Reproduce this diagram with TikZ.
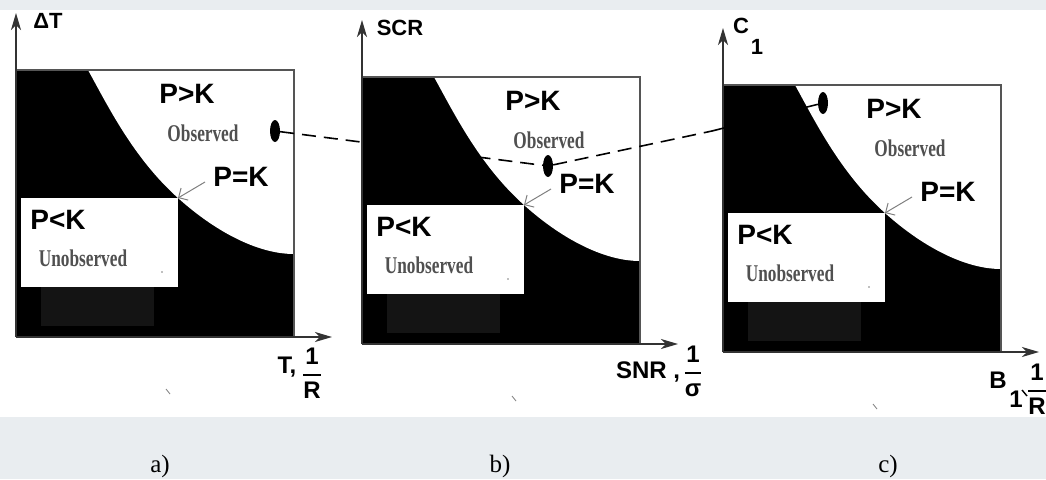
\documentclass[tikz,border=0pt]{standalone}
\usepackage{amsmath}
\usepackage{fontspec}
\setmainfont{Liberation Serif}
\setsansfont{Liberation Sans}
\newfontfamily\condserif{Liberation Serif}[FakeStretch=0.72]
\usetikzlibrary{arrows.meta,shapes.geometric}
\definecolor{bgband}{HTML}{E9EDF0}
\definecolor{obsgray}{HTML}{505050}
\definecolor{framegray}{HTML}{555555}
\definecolor{darkrect}{HTML}{141414}
\tikzset{
  rel/.style={font=\sffamily\bfseries\fontsize{28}{28}\selectfont, inner sep=0pt},
  obs/.style={font=\condserif\bfseries\fontsize{24}{24}\selectfont, text=obsgray, inner sep=0pt},
  axlbl/.style={font=\sffamily\bfseries\fontsize{22}{22}\selectfont, inner sep=0pt},
  botlbl/.style={font=\sffamily\bfseries\fontsize{24}{24}\selectfont, inner sep=0pt},
  panlbl/.style={font=\rmfamily\fontsize{25}{25}\selectfont, inner sep=0pt},
  axisline/.style={line width=1.3pt, draw=black!80, -{Stealth[length=17pt,width=10pt,inset=5pt]}},
  frameline/.style={line width=1.3pt, draw=framegray},
  pointer/.style={draw=gray, line width=1pt, -{Straight Barb[length=7pt,width=14pt]}},
  dotn/.style={ellipse, fill=black, minimum width=10pt, minimum height=22pt, inner sep=0pt},
  link/.style={line width=1.6pt, dash pattern=on 14pt off 8pt},
  linksolid/.style={line width=1.6pt},
}
\newcommand\drawpanel[2]{%
\begin{scope}[shift={#2}]
  \fill[black] (0,0) rectangle (278,267);
  \fill[white] (72,0) .. controls (92,36) and (117,87.5) .. (162,128)
     .. controls (197,159.5) and (240,184) .. (278,184) -- (278,0) -- cycle;
  \fill[white] (5,128) rectangle (161.5,217);
  \fill[darkrect] (25,217) rectangle (138,256);
  \draw[frameline] (0,0) -- (278,0) -- (278,267);
  \coordinate (#1-o) at (0,267);
  \coordinate (#1-ytip) at (0,-57);
  \coordinate (#1-xtip) at (316,267);
  \draw[axisline] (#1-o) -- (#1-ytip);
  \draw[axisline] (#1-o) -- (#1-xtip);
  \node[rel] (#1-gt) at (171,24) {P>K};
  \node[obs] (#1-obs) at (187,63) {Observed};
  \node[rel] (#1-eq) at (225,107) {P=K};
  \node[rel] (#1-lt) at (42,150) {P<K};
  \node[obs] (#1-unobs) at (67,188) {Unobserved};
  \coordinate (#1-corner) at (162,128);
  \coordinate (#1-ptr) at (189,112);
  \draw[pointer] (#1-ptr) -- (#1-corner);
  \fill[gray] (146,202) circle[radius=0.9pt];
  \draw[gray, line width=0.8pt] (150,319) -- (154,324);
\end{scope}}
\begin{document}
\begin{tikzpicture}[x=1pt,y=-1pt]
\useasboundingbox (0,0) rectangle (1046,479);
\fill[bgband] (0,0) rectangle (1046,479);
\fill[white] (0,10) rectangle (1046,417);
\drawpanel{a}{(16,70)}
\drawpanel{b}{(362,77)}
\drawpanel{c}{(723,85)}
% axis labels
\node[axlbl] (ya) at (48,21) {ΔT};
\node[axlbl] (yb) at (400,28) {SCR};
\node[axlbl] (yc1) at (741,26) {C};
\node[axlbl] (yc2) at (757,47) {1};
\node[botlbl] (xa1) at (287,367) {T,};
\node[botlbl] (xa2) at (312,373) {$\genfrac{}{}{1.6pt}{0}{\hbox{1}}{\hbox{R}}$};
\node[botlbl] (xb1) at (648,372) {SNR ,};
\node[botlbl] (xb2) at (693,371) {$\genfrac{}{}{1.6pt}{0}{\hbox{1}}{\hbox{σ}}$};
\node[botlbl] (xc1) at (998,380) {B};
\node[botlbl] (xc2) at (1016,399) {1};
\draw[line width=1.4pt] (1022,390) -- (1027,396);
\node[botlbl] (xc3) at (1037,389) {$\genfrac{}{}{1.6pt}{0}{\hbox{1}}{\hbox{R}}$};
% dots and link
\node[dotn] (da) at (275,131) {};
\node[dotn] (db) at (548,166) {};
\node[dotn] (dc) at (823,103) {};
\coordinate (lk) at (712,131);
\draw[link] (da) -- (db);
\draw[link] (db) -- (lk);
\draw[linksolid] (lk) -- (dc);
% panel labels
\node[panlbl] (la) at (160,466) {a)};
\node[panlbl] (lb) at (500,466) {b)};
\node[panlbl] (lc) at (888,466) {c)};
\end{tikzpicture}
\end{document}
